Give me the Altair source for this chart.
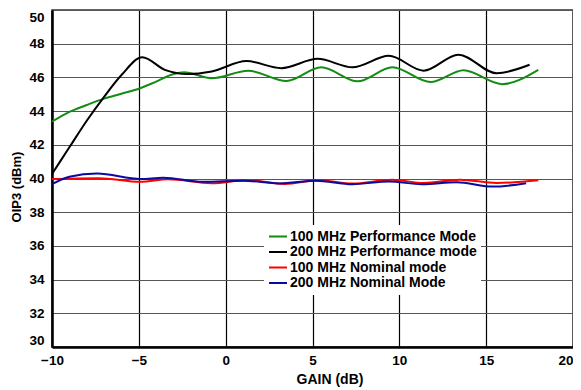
import altair as alt
import pandas as pd

series_names = ["100 MHz Performance Mode", "200 MHz Performance mode",
                "100 MHz Nominal mode", "200 MHz Nominal Mode"]
series_colors = ["#148c14", "#000000", "#ff0000", "#0a0a9e"]

green_x = [-10, -9, -8, -7, -6, -5, -4, -3, -2.4, -0.8, 1.3, 3.5, 5.5, 7.6, 9.6, 11.8, 13.7, 15.9, 18]
green_y = [43.37, 43.95, 44.36, 44.74, 45.03, 45.33, 45.75, 46.2, 46.3, 45.95, 46.4, 45.78, 46.6,
           45.77, 46.6, 45.72, 46.42, 45.6, 46.45]

black_x = [-10, -9, -8, -7, -6, -4.8, -3.5, -2.2, -0.8, 1.2, 3.2, 5.3, 7.3, 9.4, 11.4, 13.4, 15.6, 17.5]
black_y = [40.27, 41.85, 43.43, 44.85, 46.14, 47.2, 46.45, 46.2, 46.35, 46.97, 46.55, 47.1, 46.6,
           47.28, 46.4, 47.35, 46.25, 46.75]

red_x = [-10, -7.3, -4.9, -3.3, -0.8, 1.2, 3.4, 5.4, 7.3, 9.6, 11.4, 13.5, 15.6, 18]
red_y = [39.97, 40.02, 39.8, 39.95, 39.72, 39.9, 39.68, 39.9, 39.7, 39.93, 39.73, 39.93, 39.73, 39.9]

blue_x = [-10, -9, -7.4, -4.9, -3.6, -1.3, 1.0, 3.1, 5.2, 7.3, 9.4, 11.3, 13.3, 15.4, 17.3]
blue_y = [39.66, 40.1, 40.3, 39.97, 40.04, 39.8, 39.87, 39.71, 39.87, 39.66, 39.82, 39.66, 39.78,
          39.52, 39.72]

x_ticks = [-10, -5, 0, 5, 10, 15, 20]
y_ticks = [30, 32, 34, 36, 38, 40, 42, 44, 46, 48, 50]

rows = []
for name, xs, ys in zip(series_names, [green_x, black_x, red_x, blue_x],
                        [green_y, black_y, red_y, blue_y]):
    for i, (a, b) in enumerate(zip(xs, ys)):
        rows.append({"series": name, "gain": a, "oip3": b, "idx": i})
df = pd.DataFrame(rows)

FONT = "Liberation Sans"

chart = alt.Chart(df).mark_line(interpolate="monotone", strokeWidth=2).encode(
    x=alt.X("gain:Q",
            scale=alt.Scale(domain=[-10, 20], nice=False, zero=False),
            axis=alt.Axis(values=x_ticks, title="GAIN (dB)", ticks=False,
                          labelFlush=False,
                          labelAlign={"condition": {"test": "datum.value == 20", "value": "right"},
                                      "value": "center"},
                          labelPadding=6, labelFont=FONT, labelFontSize=13.5,
                          labelFontWeight="bold", labelColor="black",
                          titleFont=FONT, titleFontSize=14, titleFontWeight="bold",
                          titleColor="black", titleX=277.5, titleY=32,
                          titleBaseline="middle", titleAlign="center",
                          grid=True, gridColor="#000000", gridWidth=1.2, gridOpacity=1,
                          domainColor="black", domainWidth=2.5)),
    y=alt.Y("oip3:Q",
            scale=alt.Scale(domain=[30, 50], nice=False, zero=False),
            axis=alt.Axis(values=y_ticks, title="OIP3 (dBm)", ticks=False,
                          labelPadding=8, labelFlush=True, labelFont=FONT,
                          labelFontSize=13.5, labelFontWeight="bold", labelColor="black",
                          titleFont=FONT, titleFontSize=13, titleFontWeight="bold",
                          titleColor="black", titleX=-36, titleY=176.5, titleAngle=270,
                          titleBaseline="middle", titleAlign="center",
                          grid=True, gridColor="#555555", gridWidth=1.2, gridOpacity=1,
                          domainColor="black", domainWidth=2.5)),
    color=alt.Color("series:N",
                    scale=alt.Scale(domain=series_names, range=series_colors),
                    legend=alt.Legend(title=None, orient="none", legendX=212, legendY=215,
                                      fillColor="white", padding=4, symbolType="stroke",
                                      symbolSize=324, symbolStrokeWidth=2,
                                      labelFont=FONT, labelFontSize=14,
                                      labelFontWeight="bold", labelColor="black",
                                      labelOffset=2, labelLimit=300, clipHeight=15,
                                      rowPadding=0.5)),
    order="idx:Q",
).properties(
    width=521, height=337,
    autosize=alt.AutoSizeParams(type="none"),
    padding={"left": 44, "top": 2, "right": 0, "bottom": 40},
).configure_view(stroke="#333333", strokeWidth=1.5)

chart.save("out.html", embed_options={"renderer": "svg", "actions": False})
